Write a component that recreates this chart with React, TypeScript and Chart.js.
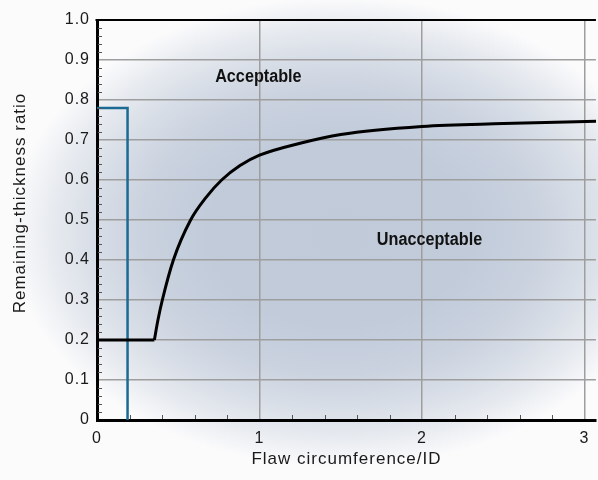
import React, { useEffect, useRef } from 'react';
import { Chart, registerables } from 'chart.js';

Chart.register(...registerables);

// ---- data ----
const floorX = [0, 0.353];
const floorY = [0.2, 0.2];
const curveX = [0.353, 0.375, 0.402, 0.47, 0.576, 0.67, 0.767, 0.88, 1.0, 1.25, 1.5, 2.0, 2.5, 3.08];
const curveY = [0.2, 0.25, 0.3, 0.4, 0.5, 0.556, 0.6, 0.636, 0.662, 0.692, 0.714, 0.734, 0.741, 0.747];
const limitX = [0, 0.188, 0.188];
const limitY = [0.78, 0.78, 0];
const xTickLabels = ['0', '1', '2', '3'];
const yTickLabels = ['0', '0.1', '0.2', '0.3', '0.4', '0.5', '0.6', '0.7', '0.8', '0.9', '1.0'];
const regionLabels = ['Acceptable', 'Unacceptable'];
const regionX = [0.993, 2.046];
const regionY = [0.858, 0.45];
const xTitle = 'Flaw circumference/ID';
const yTitle = 'Remaining-thickness ratio';

const FAMILY = '"Liberation Sans", Arial, Helvetica, sans-serif';
const TEXT = '#1a1a1a';

const toPts = (xs: number[], ys: number[]) => xs.map((x, i) => ({ x, y: ys[i] }));

const decor = {
  id: 'decor',
  beforeDraw(chart: any) {
    const ctx = chart.ctx as CanvasRenderingContext2D;
    const w = chart.width;
    const h = chart.height;
    const cx = 340, cy = 232, rx = 330, ry = 235;
    ctx.save();
    ctx.fillStyle = '#ffffff';
    ctx.fillRect(0, 0, w, h);
    ctx.translate(cx, cy);
    ctx.scale(1, ry / rx);
    const g = ctx.createRadialGradient(0, 0, 0, 0, 0, rx);
    g.addColorStop(0, '#c0cad9');
    g.addColorStop(0.4, '#c1cbda');
    g.addColorStop(0.6, '#cad2df');
    g.addColorStop(0.75, '#d8dee7');
    g.addColorStop(0.88, '#e8ebf0');
    g.addColorStop(1, '#fbfbfc');
    ctx.fillStyle = g;
    ctx.fillRect(-cx, -cy * rx / ry, w, h * rx / ry);
    ctx.restore();
    (ctx as any).letterSpacing = '1px';
  },
  afterDatasetsDraw(chart: any) {
    const ctx = chart.ctx as CanvasRenderingContext2D;
    const { x, y } = chart.scales;
    ctx.save();
    (ctx as any).letterSpacing = '0px';
    ctx.font = 'bold 18px ' + FAMILY;
    ctx.fillStyle = '#111';
    ctx.textAlign = 'center';
    ctx.textBaseline = 'middle';
    regionLabels.forEach((t, i) => {
      ctx.save();
      ctx.translate(x.getPixelForValue(regionX[i]), y.getPixelForValue(regionY[i]));
      ctx.scale(0.9, 1);
      ctx.fillText(t, 0, 0);
      ctx.restore();
    });
    ctx.restore();
  },
  afterDraw(chart: any) {
    const ctx = chart.ctx as CanvasRenderingContext2D;
    const a = chart.chartArea;
    const { x, y } = chart.scales;
    ctx.save();
    ctx.strokeStyle = '#555';
    ctx.lineWidth = 1;
    for (let i = 1; i < 50; i++) {
      if (i % 5 === 0) continue;
      const py = Math.round(y.getPixelForValue(i * 0.02)) + 0.5;
      ctx.beginPath();
      ctx.moveTo(a.left + 1, py);
      ctx.lineTo(a.left + 5, py);
      ctx.stroke();
    }
    for (let i = 1; i * 0.2 < x.max; i++) {
      if (i % 5 === 0) continue;
      const px = Math.round(x.getPixelForValue(i * 0.2)) + 0.5;
      ctx.beginPath();
      ctx.moveTo(px, a.bottom - 1);
      ctx.lineTo(px, a.bottom - 5);
      ctx.stroke();
    }
    ctx.strokeStyle = '#000';
    ctx.lineWidth = 2;
    ctx.beginPath();
    ctx.moveTo(a.left - 1.5, a.top);
    ctx.lineTo(a.right, a.top);
    ctx.stroke();

    ctx.translate(20, 203);
    ctx.rotate(-Math.PI / 2);
    (ctx as any).letterSpacing = '1px';
    ctx.font = '17px ' + FAMILY;
    ctx.fillStyle = TEXT;
    ctx.textAlign = 'center';
    ctx.textBaseline = 'middle';
    ctx.fillText(yTitle, 0, 0);
    ctx.restore();
  },
};

export default function App() {
  const ref = useRef<HTMLCanvasElement | null>(null);
  useEffect(() => {
    if (!ref.current) return;
    const chart = new Chart(ref.current, {
      type: 'line',
      data: {
        datasets: [
          {
            data: toPts(floorX, floorY),
            borderColor: '#000',
            borderWidth: 3,
            pointRadius: 0,
            tension: 0,
          },
          {
            data: toPts(curveX, curveY),
            borderColor: '#000',
            borderWidth: 3,
            pointRadius: 0,
            cubicInterpolationMode: 'monotone',
          },
          {
            data: toPts(limitX, limitY),
            borderColor: '#1b6a94',
            borderWidth: 2.5,
            borderJoinStyle: 'miter',
            pointRadius: 0,
            tension: 0,
          },
        ],
      },
      options: {
        animation: false,
        responsive: true,
        maintainAspectRatio: false,
        layout: { padding: { top: 20, left: 0, right: 0, bottom: 0 } },
        plugins: { legend: { display: false }, tooltip: { enabled: false } },
        scales: {
          x: {
            type: 'linear',
            min: 0,
            max: 3.07,
            afterFit: (s: any) => { s.height = 60; },
            grid: { color: '#9e9e9e', lineWidth: 1.5, drawTicks: false },
            border: { color: '#000', width: 3 },
            ticks: {
              stepSize: 1,
              includeBounds: false,
              padding: 9,
              color: TEXT,
              autoSkip: false,
              maxRotation: 0,
              font: { family: FAMILY, size: 16 },
              callback: (_v: any, i: number) => xTickLabels[i],
            },
            title: {
              display: true,
              text: xTitle,
              color: TEXT,
              font: { family: FAMILY, size: 17 },
              padding: { top: 0, bottom: 10 },
            },
          },
          y: {
            type: 'linear',
            min: 0,
            max: 1,
            afterFit: (s: any) => { s.width = 97; },
            grid: { color: '#9e9e9e', lineWidth: 1.5, drawTicks: false },
            border: { color: '#000', width: 3 },
            ticks: {
              stepSize: 0.1,
              padding: 7,
              color: TEXT,
              autoSkip: false,
              font: { family: FAMILY, size: 16 },
              callback: (_v: any, i: number) => yTickLabels[i],
            },
          },
        },
      },
      plugins: [decor],
    } as any);
    return () => chart.destroy();
  }, []);
  return (
    <div style={{ position: 'fixed', left: 0, top: 0, width: 598, height: 480 }}>
      <canvas ref={ref} />
    </div>
  );
}
